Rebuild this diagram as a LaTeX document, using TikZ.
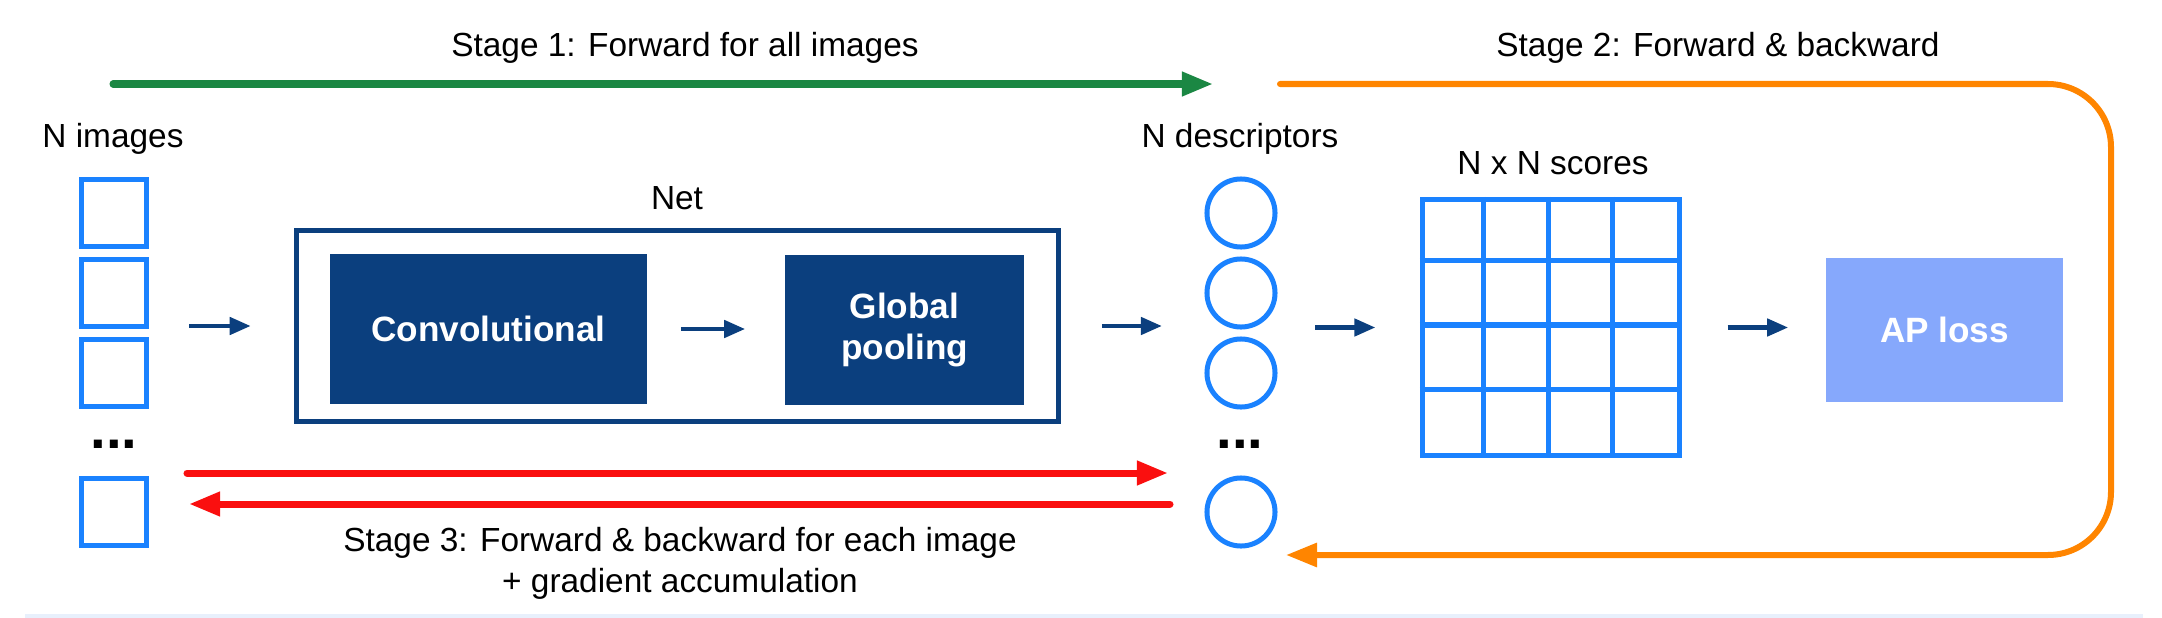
\documentclass[tikz,border=0pt]{standalone}
\usepackage{fontspec}
\setsansfont{Liberation Sans}
\usetikzlibrary{arrows.meta}
\definecolor{netnavy}{HTML}{0B3F7E}
\definecolor{itemblue}{HTML}{1A82FF}
\definecolor{lossblue}{HTML}{86A8FC}
\definecolor{fwdgreen}{HTML}{1B8743}
\definecolor{loopred}{HTML}{FA0F0F}
\definecolor{looporange}{HTML}{FF8500}
\definecolor{stripblue}{HTML}{E8F0FC}
\begin{document}
\begin{tikzpicture}[x=0.01cm,y=-0.01cm,font=\sffamily\fontsize{9.5}{11.4}\selectfont,
    txt/.style={anchor=base,inner sep=0},
    ellip/.style={txt,font=\sffamily\bfseries\fontsize{16}{16}\selectfont},
    imgbox/.style={draw=itemblue,line width=0.05cm,inner sep=0,minimum width=0.65cm,minimum height=0.67cm},
    desc/.style={draw=itemblue,line width=0.05cm,circle,inner sep=0,minimum size=0.68cm},
    block/.style={fill=netnavy,text=white,inner sep=0,align=center,font=\sffamily\bfseries\fontsize{10}{11.7}\selectfont},
    gridline/.style={itemblue,line width=0.05cm},
    flow/.style={netnavy,line width=0.045cm,-{Triangle[length=0.21cm,width=0.17cm]}},
    stage/.style={line width=0.07cm,line cap=round,-{Triangle[length=0.31cm,width=0.23cm]}}]
    \useasboundingbox (0,0) rectangle (2162,618);
    \fill[stripblue] (25,614) rectangle (2143,618);

    \node[txt] (stage1) at (685,56) {Stage 1: Forward for all images};
    \node[txt] (stage2) at (1718,56) {Stage 2: Forward \& backward};
    \node[txt] (nimg) at (113,147) {N images};
    \node[txt] (ndesc) at (1240,147) {N descriptors};
    \node[txt] (netlbl) at (677,209) {Net};
    \node[txt] (nxn) at (1553,174) {N x N scores};
    \node[txt,align=center] (stage3) at (680,592) {Stage 3: Forward \& backward for each image\\+ gradient accumulation};

    \node[imgbox] (img1) at (114,213) {};
    \node[imgbox] (img2) at (114,293) {};
    \node[imgbox] (img3) at (114,373) {};
    \node[ellip] (imgdots) at (114,448) {...};
    \node[imgbox] (img5) at (114,512) {};

    \node[desc] (desc1) at (1241,213) {};
    \node[desc] (desc2) at (1241,293) {};
    \node[desc] (desc3) at (1241,373) {};
    \node[ellip] (descdots) at (1240,448) {...};
    \node[desc] (desc5) at (1241,512) {};

    \node[draw=netnavy,line width=0.05cm,inner sep=0,minimum width=7.62cm,minimum height=1.91cm] (net) at (677.5,326) {};
    \node[block,minimum width=3.17cm,minimum height=1.49cm] (conv) at (488.5,329) {Convolutional};
    \node[block,minimum width=2.39cm,minimum height=1.49cm] (pool) at (904.5,330) {Global\\pooling};

    \node[draw=itemblue,line width=0.05cm,inner sep=0,minimum width=2.57cm,minimum height=2.56cm] (scores) at (1551,327.5) {};
    \foreach \k in {1,2,3} {
        \draw[gridline] ([xshift=\k*0.64cm]scores.north west) -- ([xshift=\k*0.64cm]scores.south west);
        \draw[gridline] ([yshift=-\k*0.64cm]scores.north west) -- ([yshift=-\k*0.64cm]scores.north east);
    }
    \node[block,fill=lossblue,minimum width=2.37cm,minimum height=1.44cm] (ap) at (1944.5,330) {AP loss};

    \draw[flow,shorten <=0.4cm,shorten >=0.43cm] (img1.east |- net.west) -- (net.west);
    \draw[flow,shorten <=0.33cm,shorten >=0.39cm] (conv.east) -- (conv.east -| pool.west);
    \draw[flow,shorten <=0.405cm,shorten >=0.425cm] (net.east) -- (net.east -| desc2.west);
    \draw[flow,shorten <=0.375cm,shorten >=0.445cm] (scores.west -| desc2.east) -- (scores.west);
    \draw[flow,shorten <=0.455cm,shorten >=0.37cm] (scores.east) -- (scores.east -| ap.west);

    \coordinate (g0) at (113,84);
    \coordinate (g1) at (1213,84);
    \draw[stage,fwdgreen] (g0) -- (g1);

    \coordinate (o0) at (1280,84);
    \coordinate (o1) at (2111,84);
    \coordinate (o2) at (2111,555);
    \coordinate (o3) at (1286,555);
    \draw[stage,looporange,line width=0.06cm,rounded corners=0.63cm] (o0) -- (o1) -- (o2) -- (o3);

    \coordinate (r0) at (187,473);
    \coordinate (r1) at (1168,473);
    \coordinate (r2) at (1170,504);
    \coordinate (r3) at (189,504);
    \draw[stage,loopred] (r0) -- (r1);
    \draw[stage,loopred] (r2) -- (r3);
\end{tikzpicture}
\end{document}
